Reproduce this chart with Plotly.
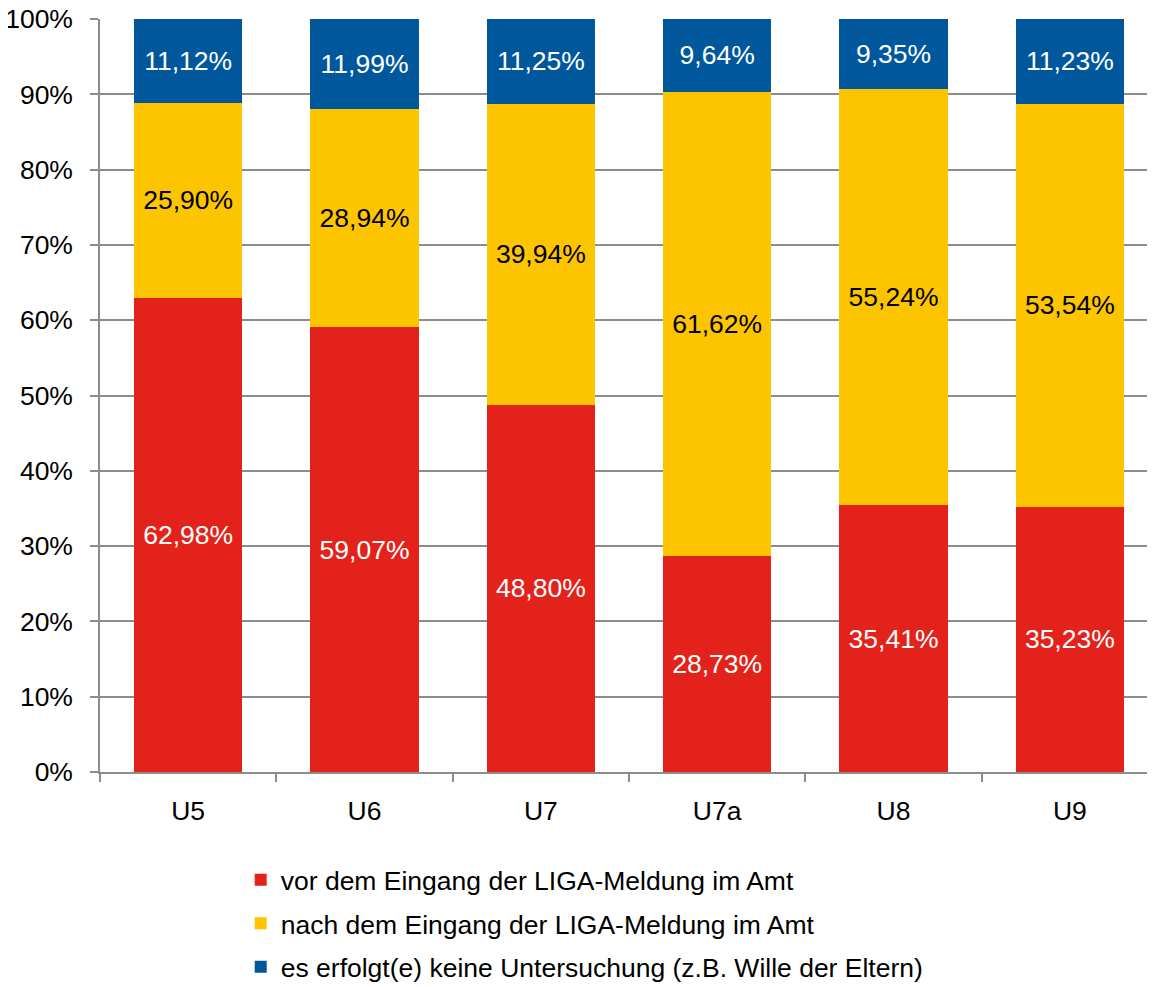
import plotly.graph_objects as go

categories = ["U5", "U6", "U7", "U7a", "U8", "U9"]
vor_values = [62.98, 59.07, 48.80, 28.73, 35.41, 35.23]
nach_values = [25.90, 28.94, 39.94, 61.62, 55.24, 53.54]
keine_values = [11.12, 11.99, 11.25, 9.64, 9.35, 11.23]
series_names = [
    "vor dem Eingang der LIGA-Meldung im Amt",
    "nach dem Eingang der LIGA-Meldung im Amt",
    "es erfolgt(e) keine Untersuchung (z.B. Wille der Eltern)",
]
y_ticks = [0, 10, 20, 30, 40, 50, 60, 70, 80, 90, 100]
y_tick_labels = [f"{v}%" for v in y_ticks]

colors = ["#E3231B", "#FDC500", "#00579C"]
text_colors = ["white", "black", "white"]
FONT = "Liberation Sans, Arial, sans-serif"


def fmt(v):
    return f"{v:.2f}".replace(".", ",") + "%"


fig = go.Figure()
for name, vals, col, tcol in zip(series_names, [vor_values, nach_values, keine_values], colors, text_colors):
    fig.add_trace(go.Bar(
        x=categories, y=vals, name=name, legendgroup=name,
        marker=dict(color=col, line=dict(width=0)),
        width=0.614,
        text=[fmt(v) for v in vals],
        textposition="inside", insidetextanchor="middle", textangle=0,
        constraintext="none",
        textfont=dict(family=FONT, size=26.5, color=tcol),
        hoverinfo="skip",
    ))

fig.update_layout(
    barmode="stack",
    width=1155, height=987,
    margin=dict(l=92, r=5, t=11, b=223, autoexpand=False),
    paper_bgcolor="white", plot_bgcolor="white",
    font=dict(family=FONT, size=26.5, color="black"),
    showlegend=True,
    legend=dict(
        orientation="v", traceorder="grouped", tracegroupgap=6,
        x=0.133, xanchor="left", y=-0.1116, yanchor="top",
        font=dict(family=FONT, size=26.5, color="black"),
        bgcolor="rgba(0,0,0,0)",
    ),
)
fig.update_xaxes(
    range=[-0.5, 5.5], automargin=False,
    showline=True, linecolor="#8c8c8c", linewidth=1.5,
    ticks="outside", tickson="boundaries", ticklen=8, tickcolor="#8c8c8c", tickwidth=1.5,
    showgrid=False, tickfont=dict(family=FONT, size=26.5, color="black"),
    ticklabelstandoff=14,
)
fig.update_yaxes(
    range=[0, 100], automargin=False,
    tickvals=y_ticks, ticktext=y_tick_labels,
    ticklabeloverflow="allow",
    showline=True, linecolor="#8c8c8c", linewidth=1.5,
    ticks="outside", ticklen=8, tickcolor="#8c8c8c", tickwidth=1.5,
    showgrid=True, gridcolor="#8c8c8c", gridwidth=1.5,
    zeroline=False, ticklabelstandoff=12,
    tickfont=dict(family=FONT, size=26.5, color="black"),
)

fig.write_html("out.html")
